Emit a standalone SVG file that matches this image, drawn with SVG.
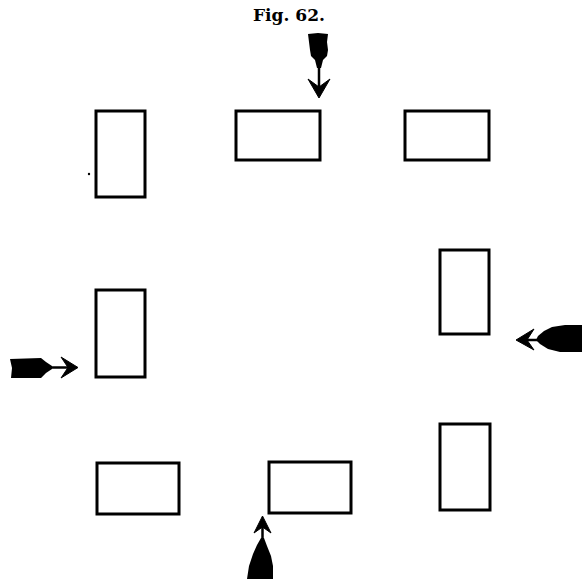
<svg xmlns="http://www.w3.org/2000/svg" width="582" height="579" viewBox="0 0 582 579">
<style>
.box{fill:none;stroke:#000;stroke-width:3}
.shaft{stroke:#000;stroke-width:2.5;fill:none}
.head{fill:#000;stroke:#000;stroke-width:1;stroke-linejoin:miter}
.feather{fill:#000}
.title{font-family:"DejaVu Serif","Liberation Serif",serif;font-weight:bold;font-size:16px;fill:#000}
</style>
<rect width="582" height="579" fill="#fff"/>
<text class="title" x="253" y="21" textLength="72" lengthAdjust="spacingAndGlyphs">Fig. 62.</text>
<g id="box-a"><rect class="box" x="96" y="111" width="49" height="86"/></g>
<g id="box-b"><rect class="box" x="236" y="111" width="84" height="49"/></g>
<g id="box-c"><rect class="box" x="405" y="111" width="84" height="49"/></g>
<g id="box-d"><rect class="box" x="440" y="250" width="49" height="84"/></g>
<g id="box-e"><rect class="box" x="96" y="290" width="49" height="87"/></g>
<g id="box-f"><rect class="box" x="97" y="463" width="82" height="51"/></g>
<g id="box-g"><rect class="box" x="269" y="462" width="82" height="51"/></g>
<g id="box-h"><rect class="box" x="440" y="424" width="50" height="86"/></g>
<circle cx="89" cy="174" r="1.2" fill="#000"/>
<g id="connectors">
<g id="arrow-top">
<path class="feather" d="M308,34 L318,33 L328,34 L327,42 L328,50 L327,56 L323,60 L321,68 L317,68 L315,60 L311,56 L310,50 L309,42 Z"/>
<line class="shaft" x1="319" y1="64" x2="319" y2="94"/>
<path class="head" d="M308,79 L319,87 L330,79 L319,98 Z"/>
</g>
<g id="arrow-left">
<path class="feather" d="M10,359 L41,358 L46,362 L52,366 L52,369 L46,373 L41,378 L11,378 L12,368 Z"/>
<line class="shaft" x1="50" y1="367.5" x2="74" y2="367.5"/>
<path class="head" d="M61,357 L68,367.5 L61,378 L78,367.5 Z"/>
</g>
<g id="arrow-right">
<path class="feather" d="M582,325 L565,325 L552,327 L544,331 L538,336 L536,340 L540,344 L548,349 L560,352 L582,352 Z"/>
<line class="shaft" x1="520" y1="340" x2="540" y2="340"/>
<path class="head" d="M534,329 L527,340 L534,350 L516,340 Z"/>
</g>
<g id="arrow-bottom">
<path class="feather" d="M261,538 L264,538 L267,546 L271,556 L273,566 L273,579 L247,579 L249,566 L253,554 L257,545 Z"/>
<line class="shaft" x1="262.5" y1="522" x2="262.5" y2="542"/>
<path class="head" d="M254,533 L262.5,527 L271,533 L262.5,516 Z"/>
</g>
</g>
</svg>
